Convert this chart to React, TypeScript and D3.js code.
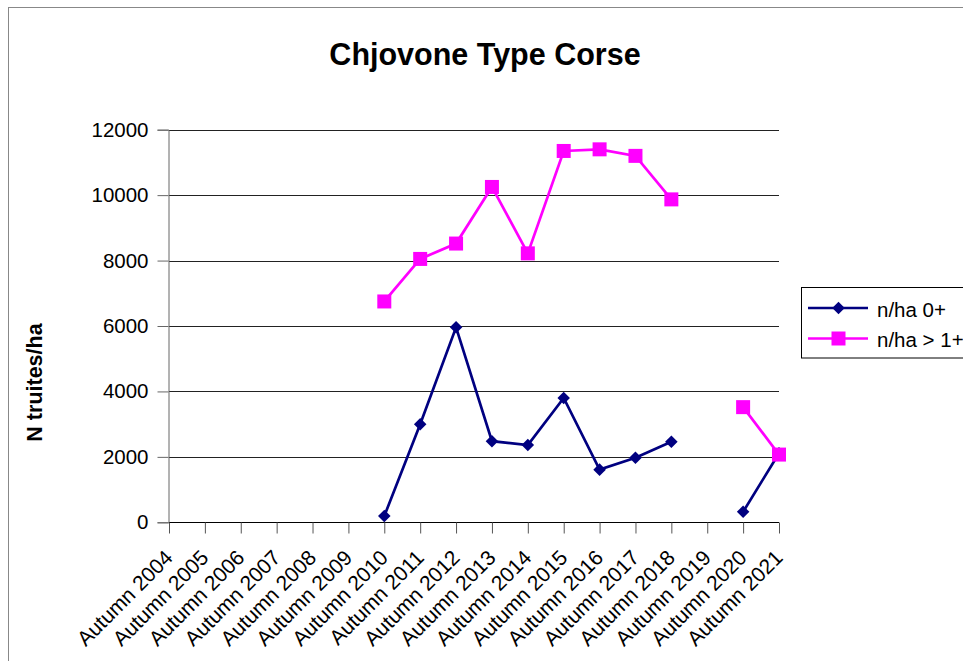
import React, { useRef, useEffect } from 'react';
import * as d3 from 'd3';

// --- Data ---
const categories = [
    'Autumn 2004', 'Autumn 2005', 'Autumn 2006', 'Autumn 2007', 'Autumn 2008', 'Autumn 2009',
    'Autumn 2010', 'Autumn 2011', 'Autumn 2012', 'Autumn 2013', 'Autumn 2014', 'Autumn 2015',
    'Autumn 2016', 'Autumn 2017', 'Autumn 2018', 'Autumn 2019', 'Autumn 2020', 'Autumn 2021',
];
// n/ha 0+
const zeroPlus: (number | null)[] = [
    null, null, null, null, null, null,
    190, 3000, 5960, 2480, 2360, 3800, 1610, 1970, 2460, null, 320, 2110,
];
// n/ha > 1+
const onePlus: (number | null)[] = [
    null, null, null, null, null, null,
    6750, 8050, 8520, 10250, 8220, 11350, 11400, 11200, 9870, null, 3520, 2070,
];
const yTicks = [0, 2000, 4000, 6000, 8000, 10000, 12000];

const title = 'Chjovone Type Corse';
const yLabel = 'N truites/ha';
const seriesNames = ['n/ha 0+', 'n/ha > 1+'];

const BLUE = '#000080';
const PINK = '#FF00FF';
const FONT = '"Liberation Sans", Arial, sans-serif';

const App = () => {
    const ref = useRef<SVGSVGElement>(null);

    useEffect(() => {
        const svg = d3.select(ref.current);
        svg.selectAll('*').remove();

        // outer chart frame (cut by the page on the right and bottom)
        svg.append('rect')
            .attr('x', 8.5).attr('y', 7.5)
            .attr('width', 1000).attr('height', 700)
            .attr('fill', 'white')
            .attr('stroke', '#888888');

        const xScale = d3.scalePoint<string>().domain(categories).range([169, 779]);
        const yScale = d3.scaleLinear().domain([0, 12000]).range([522.3, 129.7]);
        const [x0, x1] = xScale.range();

        // title
        svg.append('text')
            .attr('x', 485).attr('y', 65)
            .attr('text-anchor', 'middle')
            .style('font-family', FONT).style('font-size', '30.5px').style('font-weight', 'bold')
            .text(title);

        // horizontal grid lines
        svg.append('g')
            .selectAll('line')
            .data(yTicks.filter(d => d > 0))
            .enter().append('line')
            .attr('x1', x0).attr('x2', x1)
            .attr('y1', d => Math.round(yScale(d)) + 0.5)
            .attr('y2', d => Math.round(yScale(d)) + 0.5)
            .attr('stroke', '#222222');

        // y axis
        const yAxis = svg.append('g')
            .attr('transform', `translate(${x0 - 0.5},0)`)
            .call(d3.axisLeft(yScale).tickValues(yTicks).tickSize(11).tickPadding(9).tickFormat(d3.format('d')));
        yAxis.select('.domain').attr('stroke', '#666666');
        yAxis.selectAll('.tick line').attr('stroke', '#666666');
        yAxis.selectAll('text')
            .style('font-family', FONT).style('font-size', '20.5px').attr('fill', '#000');

        // x axis
        const xAxis = svg.append('g')
            .attr('transform', `translate(0,${Math.round(yScale(0)) + 0.5})`)
            .call(d3.axisBottom(xScale).tickSize(11).tickFormat(() => ''));
        xAxis.select('.domain').attr('stroke', '#000').attr('d', `M${x0},0H${x1}`);
        xAxis.selectAll('.tick line').attr('stroke', '#555555');

        // rotated category labels
        svg.append('g')
            .selectAll('text')
            .data(categories)
            .enter().append('text')
            .attr('text-anchor', 'end')
            .attr('transform', d => `translate(${(xScale(d) as number) + 5},559) rotate(-45)`)
            .style('font-family', FONT).style('font-size', '21px')
            .text(d => d);

        // y axis title
        svg.append('text')
            .attr('transform', 'translate(41.5,382.5) rotate(-90)')
            .attr('text-anchor', 'middle')
            .style('font-family', FONT).style('font-size', '21.5px').style('font-weight', 'bold')
            .text(yLabel);

        // --- Series ---
        const line = d3.line<number | null>()
            .defined(d => d !== null)
            .x((d, i) => xScale(categories[i]) as number)
            .y(d => yScale(d as number));

        const diamond = d3.symbol().type(d3.symbolDiamond2).size(100)();
        const square = 'M-7,-7H7V7H-7Z';

        const drawSeries = (values: (number | null)[], color: string, marker: string | null) => {
            svg.append('path')
                .datum(values)
                .attr('fill', 'none')
                .attr('stroke', color)
                .attr('stroke-width', 2.7)
                .attr('d', line);
            svg.append('g')
                .selectAll('path')
                .data(values.map((v, i) => ({ v, c: categories[i] })).filter(d => d.v !== null))
                .enter().append('path')
                .attr('transform', d => `translate(${xScale(d.c)},${yScale(d.v as number)})`)
                .attr('d', marker)
                .attr('fill', color);
        };
        drawSeries(zeroPlus, BLUE, diamond);
        drawSeries(onePlus, PINK, square);

        // --- Legend ---
        const legend = svg.append('g');
        legend.append('rect')
            .attr('x', 801.5).attr('y', 287.5)
            .attr('width', 300).attr('height', 70.5)
            .attr('fill', 'white').attr('stroke', '#000');
        const items = [
            { name: seriesNames[0], color: BLUE, marker: diamond, y: 308 },
            { name: seriesNames[1], color: PINK, marker: square, y: 338.5 },
        ];
        items.forEach(it => {
            legend.append('line')
                .attr('x1', 808).attr('x2', 868)
                .attr('y1', it.y).attr('y2', it.y)
                .attr('stroke', it.color).attr('stroke-width', 2.7);
            legend.append('path')
                .attr('transform', `translate(838.5,${it.y})`)
                .attr('d', it.marker)
                .attr('fill', it.color);
            legend.append('text')
                .attr('x', 877).attr('y', it.y + 8.5)
                .style('font-family', FONT).style('font-size', '20.5px')
                .text(it.name);
        });
    }, []);

    return (
        <svg
            ref={ref}
            width={963}
            height={661}
            style={{ position: 'absolute', left: 0, top: 0, background: 'white' }}
        />
    );
};

export default App;
